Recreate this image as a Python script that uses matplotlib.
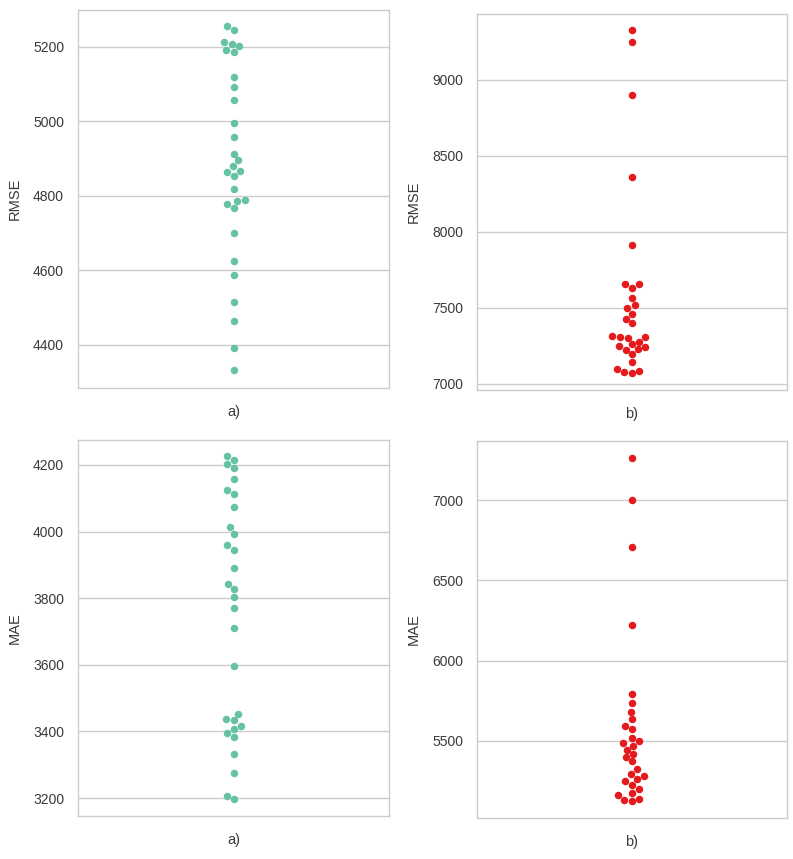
import matplotlib
matplotlib.use("Agg")
import matplotlib.pyplot as plt
import seaborn as sns
import numpy as np

rmse_a = [5256, 5244, 5214, 5207, 5201, 5192, 5187,
          5120, 5092, 5058, 4995, 4957, 4913, 4895, 4879, 4864, 4867, 4854, 4819,
          4778, 4785, 4788, 4767,
          4701, 4625, 4588, 4516, 4465, 4392, 4331]
rmse_b = [9329, 9250, 8899, 8360, 7914,
          7658, 7634, 7657, 7564, 7516, 7498, 7459, 7428, 7400,
          7316, 7305, 7307, 7311, 7278, 7252, 7263, 7245, 7224, 7228,
          7195, 7142, 7099, 7077, 7070, 7088]
mae_a = [4228, 4215, 4203, 4192, 4157, 4125, 4113, 4074, 4014, 3994,
         3959, 3946, 3891, 3844, 3829, 3804, 3770, 3709,
         3597, 3452, 3437, 3433, 3417, 3407, 3395, 3384, 3332, 3276, 3207, 3196]
mae_b = [7263, 7000, 6709, 6221,
         5791, 5735, 5683, 5637, 5596, 5573, 5517, 5502, 5486, 5471,
         5445, 5418, 5399, 5372, 5324, 5293, 5279, 5264, 5252, 5227,
         5200, 5175, 5165, 5134, 5123, 5138]

panel_labels = ["a)", "b)", "a)", "b)"]
metric_labels = ["RMSE", "RMSE", "MAE", "MAE"]
green = "#66c2a5"
red = "#e41a1c"
text_col = '#3a3a3a'

sns.set_theme(style="whitegrid")
plt.rcParams['font.family'] = ['Liberation Sans', 'DejaVu Sans']
plt.rcParams['axes.edgecolor'] = '#cccccc'
plt.rcParams['grid.color'] = '#cccccc'

W, H = 793, 859
fig = plt.figure(figsize=(W / 100, H / 100), dpi=100)

def box(l, t, r, b):
    return [l / W, 1 - b / H, (r - l) / W, (b - t) / H]

specs = [
    (box(78, 10, 389, 388), rmse_a, green, (4284, 5299), [4400, 4600, 4800, 5000, 5200]),
    (box(477, 14, 787, 390), rmse_b, red, (6960, 9434), [7000, 7500, 8000, 8500, 9000]),
    (box(78, 440, 389, 816), mae_a, green, (3146, 4275), [3200, 3400, 3600, 3800, 4000, 4200]),
    (box(477, 441, 787, 818), mae_b, red, (5020, 7368), [5500, 6000, 6500, 7000]),
]

for (pos, vals, col, ylim, ticks), plab, mlab in zip(specs, panel_labels, metric_labels):
    ax = fig.add_axes(pos)
    ax.set_ylim(*ylim)
    sns.swarmplot(y=vals, ax=ax, color=col, size=5.4)
    ax.set_ylim(*ylim)
    ax.set_xlim(-0.5, 0.5)
    ax.set_yticks(ticks)
    ax.set_xticks([])
    ax.xaxis.grid(False)
    ax.set_xlabel(plab, fontsize=10.5, color=text_col, labelpad=12)
    ax.set_ylabel(mlab, fontsize=10.5, color=text_col, labelpad=8)
    ax.tick_params(axis='y', labelsize=10, colors=text_col, pad=10, length=0)
    for s in ax.spines.values():
        s.set_color('#cccccc')
        s.set_linewidth(1.0)

fig.savefig("out.png", dpi=100)
